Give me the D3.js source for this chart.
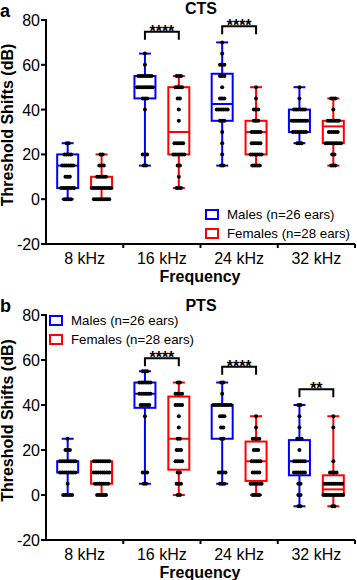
<!DOCTYPE html>
<html>
<head>
<meta charset="utf-8">
<script src="https://cdn.jsdelivr.net/npm/d3@7"></script>
<style>
  body { margin: 0; background: #fff; }
  svg { font-family: Arial, "Liberation Sans", sans-serif; }
</style>
</head>
<body>
<div id="chart"></div>
<script>
// frequencies and y ticks
const freqs = ["8 kHz", "16 kHz", "24 kHz", "32 kHz"];
const yTicks = [-20, 0, 20, 40, 60, 80];
const groups = ["Males", "Females"];
const legendLabels = ["Males (n=26 ears)", "Females (n=28 ears)"];

// box stats: [min, q1, median, q3, max]
const ctsMaleBox = [[0, 5, 15, 20, 25], [15, 45, 50, 55, 65], [15, 35, 42.5, 56, 70], [25, 30, 35, 40, 50]];
const ctsFemaleBox = [[0, 5, 5, 10, 20], [5, 20, 30, 50, 55], [15, 20, 30, 35, 50], [15, 25, 32.5, 35, 45]];
const ptsMaleBox = [[0, 10, 15, 15, 25], [5, 38.75, 45, 50, 55], [5, 25, 40, 40, 50], [-5, 8.75, 15, 24.4, 40]];
const ptsFemaleBox = [[0, 5, 10, 15, 15], [0, 11.25, 25, 43.75, 50], [0, 6.25, 15, 23.75, 35], [-5, 0, 2.5, 8.75, 35]];

// individual ears: [value, count]
const ctsMaleDots = [
  [[25, 2], [20, 4], [15, 6], [10, 3], [5, 7], [0, 4]],
  [[65, 1], [60, 1], [55, 7], [50, 8], [45, 3], [40, 1], [20, 3], [15, 2]],
  [[70, 1], [65, 1], [60, 3], [55, 3], [50, 1], [45, 3], [40, 6], [35, 3], [30, 1], [25, 1], [20, 1], [15, 2]],
  [[50, 1], [45, 1], [40, 6], [35, 8], [30, 7], [25, 3]]
];
const ctsFemaleDots = [
  [[20, 2], [15, 3], [10, 5], [5, 10], [0, 8]],
  [[55, 3], [50, 4], [45, 2], [40, 1], [35, 1], [25, 5], [20, 6], [15, 2], [10, 1], [5, 3]],
  [[50, 1], [45, 1], [40, 3], [35, 3], [30, 5], [25, 5], [20, 6], [15, 4]],
  [[45, 3], [40, 1], [35, 6], [30, 5], [25, 8], [20, 2], [15, 3]]
];
const ptsMaleDots = [
  [[25, 1], [20, 3], [15, 8], [10, 8], [5, 1], [0, 5]],
  [[55, 3], [50, 6], [45, 6], [40, 5], [35, 1], [10, 3], [5, 2]],
  [[50, 2], [45, 1], [40, 9], [35, 3], [30, 2], [25, 2], [10, 4], [5, 3]],
  [[40, 2], [35, 1], [30, 1], [25, 3], [20, 1], [15, 6], [10, 6], [5, 2], [0, 2], [-5, 2]]
];
const ptsFemaleDots = [
  [[15, 8], [10, 8], [5, 7], [0, 5]],
  [[50, 2], [45, 4], [40, 4], [35, 1], [30, 1], [25, 2], [20, 3], [15, 4], [10, 2], [5, 3], [0, 2]],
  [[35, 1], [30, 1], [25, 4], [20, 3], [15, 5], [10, 4], [5, 6], [0, 4]],
  [[35, 1], [30, 1], [15, 1], [10, 4], [5, 9], [0, 10], [-5, 2]]
];

// significance brackets: [freq, stars, height in dB]
const ctsSig = [["16 kHz", "****", 74.7], ["24 kHz", "****", 77.2]];
const ptsSig = [["16 kHz", "****", 60.8], ["24 kHz", "****", 57], ["32 kHz", "**", 47]];

const colors = { Males: "#0000ff", Females: "#ff0000" };

const width = 357, height = 580;
const svg = d3.select("#chart").append("svg")
  .attr("width", width).attr("height", height);

const x = d3.scaleBand().domain(freqs).range([46, 355]);
const xSex = d3.scalePoint().domain(groups).range([0, x.bandwidth()]).padding(0.64);
const boxW = 21, capW = 12;

function drawPanel(cfg) {
  const g = svg.append("g");
  const y = d3.scaleLinear().domain([-20, 80]).range(cfg.yRange);

  // axes
  g.append("line").attr("x1", 46).attr("x2", 46)
    .attr("y1", y(80) - 1).attr("y2", y(-20) + 1)
    .attr("stroke", "#000").attr("stroke-width", 2);
  g.append("line").attr("x1", 45).attr("x2", 355)
    .attr("y1", y(-20)).attr("y2", y(-20))
    .attr("stroke", "#000").attr("stroke-width", 2);

  g.selectAll("line.ytick").data(yTicks).join("line")
    .attr("class", "ytick")
    .attr("x1", 41).attr("x2", 46)
    .attr("y1", d => y(d)).attr("y2", d => y(d))
    .attr("stroke", "#000").attr("stroke-width", 2);
  g.selectAll("text.ylab").data(yTicks).join("text")
    .attr("class", "ylab")
    .attr("x", 40).attr("y", d => y(d) + 6)
    .attr("text-anchor", "end")
    .style("font-size", "16px")
    .text(d => d);

  const bounds = freqs.slice(1).map(f => x(f)).concat([355]);
  g.selectAll("line.xtick").data(bounds).join("line")
    .attr("class", "xtick")
    .attr("x1", d => d).attr("x2", d => d)
    .attr("y1", y(-20)).attr("y2", y(-20) + 4)
    .attr("stroke", "#000").attr("stroke-width", 2);
  g.selectAll("text.xlab").data(freqs).join("text")
    .attr("class", "xlab")
    .attr("x", d => x(d) + x.bandwidth() / 2)
    .attr("y", y(-20) + 20)
    .attr("text-anchor", "middle")
    .style("font-size", "16px")
    .text(d => d);

  g.append("text")
    .attr("x", 200).attr("y", y(-20) + 38)
    .attr("text-anchor", "middle")
    .style("font-size", "16px").style("font-weight", "bold")
    .text("Frequency");

  g.append("text")
    .attr("transform", `translate(13,${(y(80) + y(-20)) / 2 - 7}) rotate(-90)`)
    .attr("text-anchor", "middle")
    .style("font-size", "16px").style("font-weight", "bold")
    .text("Threshold Shifts (dB)");

  g.append("text")
    .attr("x", 0).attr("y", cfg.letterY)
    .style("font-size", "18px").style("font-weight", "bold")
    .text(cfg.letter);
  g.append("text")
    .attr("x", 201).attr("y", cfg.titleY)
    .attr("text-anchor", "middle")
    .style("font-size", "16px").style("font-weight", "bold")
    .text(cfg.title);

  // boxes
  groups.forEach((sex, si) => {
    const boxes = si === 0 ? cfg.maleBox : cfg.femaleBox;
    const dots = si === 0 ? cfg.maleDots : cfg.femaleDots;
    const col = colors[sex];
    freqs.forEach((f, fi) => {
      const cx = x(f) + xSex(sex);
      const [mn, q1, med, q3, mx] = boxes[fi];
      const bg = g.append("g");
      bg.append("line").attr("x1", cx).attr("x2", cx)
        .attr("y1", y(mx)).attr("y2", y(mn))
        .attr("stroke", col).attr("stroke-width", 2);
      bg.append("rect")
        .attr("x", cx - boxW / 2).attr("width", boxW)
        .attr("y", y(q3)).attr("height", y(q1) - y(q3))
        .attr("fill", "#fff").attr("stroke", col).attr("stroke-width", 2);
      bg.append("line").attr("x1", cx - boxW / 2).attr("x2", cx + boxW / 2)
        .attr("y1", y(med)).attr("y2", y(med))
        .attr("stroke", col).attr("stroke-width", 2);
      bg.selectAll("line.cap").data([mn, mx]).join("line")
        .attr("class", "cap")
        .attr("x1", cx - capW / 2).attr("x2", cx + capW / 2)
        .attr("y1", d => y(d)).attr("y2", d => y(d))
        .attr("stroke", col).attr("stroke-width", 2);

      const pts = [];
      dots[fi].forEach(([v, n]) => {
        for (let i = 0; i < n; i++) pts.push({ v: v, dx: (i - (n - 1) / 2) * 2.2 });
      });
      bg.selectAll("circle").data(pts).join("circle")
        .attr("cx", d => cx + d.dx).attr("cy", d => y(d.v))
        .attr("r", 2).attr("fill", "#000");
    });
  });

  // significance brackets
  cfg.sig.forEach(([f, stars, h]) => {
    const x1 = x(f) + xSex("Males"), x2 = x(f) + xSex("Females");
    const yy = y(h);
    g.append("path")
      .attr("d", `M${x1},${yy + 8}V${yy}H${x2}V${yy + 8}`)
      .attr("fill", "none").attr("stroke", "#000").attr("stroke-width", 2);
    g.append("text")
      .attr("x", (x1 + x2) / 2).attr("y", yy + 5)
      .attr("text-anchor", "middle")
      .style("font-size", "16px").style("font-weight", "bold")
      .text(stars);
  });

  // legend
  legendLabels.forEach((lab, i) => {
    const ly = cfg.legend[1] + i * 19;
    g.append("rect")
      .attr("x", cfg.legend[0]).attr("y", ly)
      .attr("width", 12).attr("height", 9)
      .attr("fill", "#fff").attr("stroke", colors[groups[i]]).attr("stroke-width", 2);
    g.append("text")
      .attr("x", cfg.legend[0] + 21).attr("y", ly + 9)
      .style("font-size", "13.3px")
      .text(lab);
  });
}

drawPanel({
  yRange: [244, 20], letter: "a", letterY: 17, title: "CTS", titleY: 14,
  maleBox: ctsMaleBox, femaleBox: ctsFemaleBox,
  maleDots: ctsMaleDots, femaleDots: ctsFemaleDots,
  sig: ctsSig, legend: [206, 210]
});
drawPanel({
  yRange: [540, 315], letter: "b", letterY: 312, title: "PTS", titleY: 311,
  maleBox: ptsMaleBox, femaleBox: ptsFemaleBox,
  maleDots: ptsMaleDots, femaleDots: ptsFemaleDots,
  sig: ptsSig, legend: [50, 316]
});
</script>
</body>
</html>
